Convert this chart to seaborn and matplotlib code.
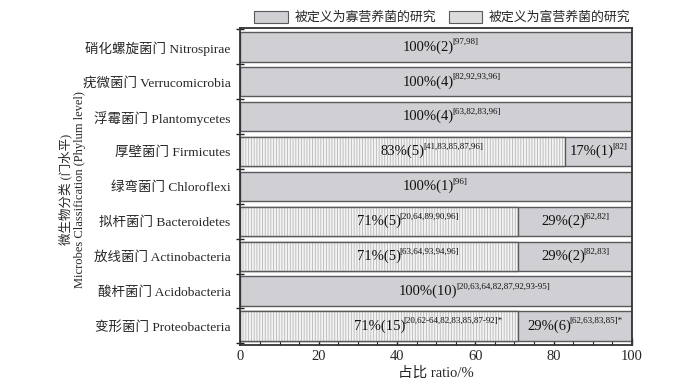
import matplotlib
matplotlib.use("Agg")
import matplotlib.pyplot as plt
import seaborn as sns
import pandas as pd
import numpy as np
from matplotlib.patches import Patch
from matplotlib.ticker import MultipleLocator

# ---------------- data ----------------
phyla = ["硝化螺旋菌门 Nitrospirae", "疣微菌门 Verrucomicrobia", "浮霉菌门 Plantomycetes",
         "厚壁菌门 Firmicutes", "绿弯菌门 Chloroflexi", "拟杆菌门 Bacteroidetes",
         "放线菌门 Actinobacteria", "酸杆菌门 Acidobacteria", "变形菌门 Proteobacteria"]
copio_pct = [0, 0, 0, 83, 0, 71, 71, 0, 71]        # 富营养 (hatched)
oligo_pct = [100, 100, 100, 17, 100, 29, 29, 100, 29]  # 寡营养 (gray)
copio_n = [0, 0, 0, 5, 0, 5, 5, 0, 15]
oligo_n = [2, 4, 4, 1, 1, 2, 2, 10, 6]
copio_ref = ["", "", "", "[41,83,85,87,96]", "", "[20,64,89,90,96]",
             "[63,64,93,94,96]", "", "[20,62-64,82,83,85,87-92]*"]
oligo_ref = ["[97,98]", "[82,92,93,96]", "[63,82,83,96]", "[82]", "[96]", "[62,82]",
             "[82,83]", "[20,63,64,82,87,92,93-95]", "[62,63,83,85]*"]
legend_labels = ["被定义为寡营养菌的研究", "被定义为富营养菌的研究"]
x_ticks = [0, 20, 40, 60, 80, 100]

df = pd.DataFrame({"phylum": phyla, "copio": copio_pct, "oligo": oligo_pct})
df["total"] = df["copio"] + df["oligo"]

# ---------------- style ----------------
sns.set_theme(style="ticks")
plt.rcParams["font.family"] = ["Liberation Serif", "Noto Sans CJK SC"]
plt.rcParams["hatch.linewidth"] = 0.6
plt.rcParams["axes.unicode_minus"] = False

gray = "#d0d0d4"
light = "#f3f3f3"
hatch_col = "#b8b8b8"
edge = "#5a5a5a"

fig = plt.figure(figsize=(6.89, 3.90), dpi=100)
ax = fig.add_axes([0.349, 0.116, 0.568, 0.812])

bar_w = 0.84
# gray (oligotrophic) full bars
sns.barplot(data=df, x="total", y="phylum", orient="h", color=gray, saturation=1,
            width=bar_w, edgecolor=edge, linewidth=1.0, ax=ax)
n_gray = len(ax.patches)
# hatched (copiotrophic) segments
sns.barplot(data=df, x="copio", y="phylum", orient="h", color=light, saturation=1,
            width=bar_w, edgecolor=hatch_col, linewidth=0, ax=ax)
for p in ax.patches[n_gray:]:
    p.set_hatch("||||||")
    p.set_edgecolor(hatch_col)
n_h = len(ax.patches)
# outlines for hatched segments
sns.barplot(data=df, x="copio", y="phylum", orient="h", fill=False,
            width=bar_w, edgecolor=edge, linewidth=1.0, ax=ax)
for p in ax.patches[n_h:]:
    if p.get_width() == 0:
        p.set_visible(False)

ax.set_xlim(0, 100)
ax.set_ylim(len(phyla) - 0.5 + 0.04, -0.5 - 0.04)
ax.xaxis.set_major_locator(MultipleLocator(20))
ax.xaxis.set_minor_locator(MultipleLocator(5))
ax.set_xticks(x_ticks)
ax.set_yticks(range(len(phyla)))
ax.set_yticklabels(phyla, fontsize=9.7)
ax.set_yticks(np.arange(-0.5, len(phyla), 1.0), minor=True)
ax.tick_params(axis="y", which="major", length=0, pad=7)
ax.tick_params(axis="y", which="minor", length=6, width=1.0, direction="inout", color="#222")
ax.tick_params(axis="x", which="major", length=5, width=1.0, direction="in", labelsize=10.5,
               color="#222", pad=4)
ax.tick_params(axis="x", which="minor", length=3, width=0.8, direction="in", color="#222")
for s in ax.spines.values():
    s.set_visible(True)
    s.set_linewidth(1.3)
    s.set_color("#333333")

ax.set_xlabel("占比 ratio/%", fontsize=10.5, labelpad=2)
ax.set_ylabel("微生物分类 (门水平)\nMicrobes Classification (Phylum level)", fontsize=9,
              linespacing=1.15)
ax.yaxis.set_label_coords(-0.395, 0.49)

# ---------------- labels ----------------
main_fs = 10.5
sup_fs = 6.5

def label_main_sup(x, y, main, sup):
    t = ax.text(x, y, main, ha="center", va="center", fontsize=main_fs, color="#111")
    if sup:
        ax.annotate(sup, xy=(1.0, 0.85), xycoords=t, xytext=(-1.2, 0),
                    textcoords="offset points", ha="left", va="center",
                    fontsize=sup_fs, color="#111")

def label_centered(xc, y, main, sup):
    # place main+superscript so that whole label is centered at xc
    t = ax.text(xc, y, main, ha="right", va="center", fontsize=main_fs, color="#111")
    a = ax.annotate(sup, xy=(1.0, 0.85), xycoords=t, xytext=(-1.2, 0),
                    textcoords="offset points", ha="left", va="center",
                    fontsize=sup_fs, color="#111")
    fig.canvas.draw()
    r = fig.canvas.get_renderer()
    bt = t.get_window_extent(r)
    ba = a.get_window_extent(r)
    total_w = ba.x1 - bt.x0
    inv = ax.transData.inverted()
    xc_px = ax.transData.transform((xc, y))[0]
    new_right = xc_px - total_w / 2 + bt.width
    t.set_x(inv.transform((new_right, 0))[0])

for i in range(len(phyla)):
    c, o = copio_pct[i], oligo_pct[i]
    if c > 0:
        label_main_sup(c / 2, i, f"{c}%({copio_n[i]})", copio_ref[i])
        label_centered(c + o / 2, i, f"{o}%({oligo_n[i]})", oligo_ref[i])
    else:
        label_main_sup(o / 2 - 2, i, f"{o}%({oligo_n[i]})", oligo_ref[i])

# ---------------- legend ----------------
handles = [Patch(facecolor=gray, edgecolor=edge, linewidth=0.8),
           Patch(facecolor="#dcdcdc", edgecolor=edge, linewidth=0.8)]
fig.legend(handles, legend_labels, loc="center", bbox_to_anchor=(0.642, 0.955), ncol=2,
           frameon=False, handlelength=2.6, handleheight=1.0,
           columnspacing=1.0, handletextpad=0.5, prop={"family": ["Noto Sans CJK SC"], "size": 9.3})

fig.savefig("out.png", dpi=100)
